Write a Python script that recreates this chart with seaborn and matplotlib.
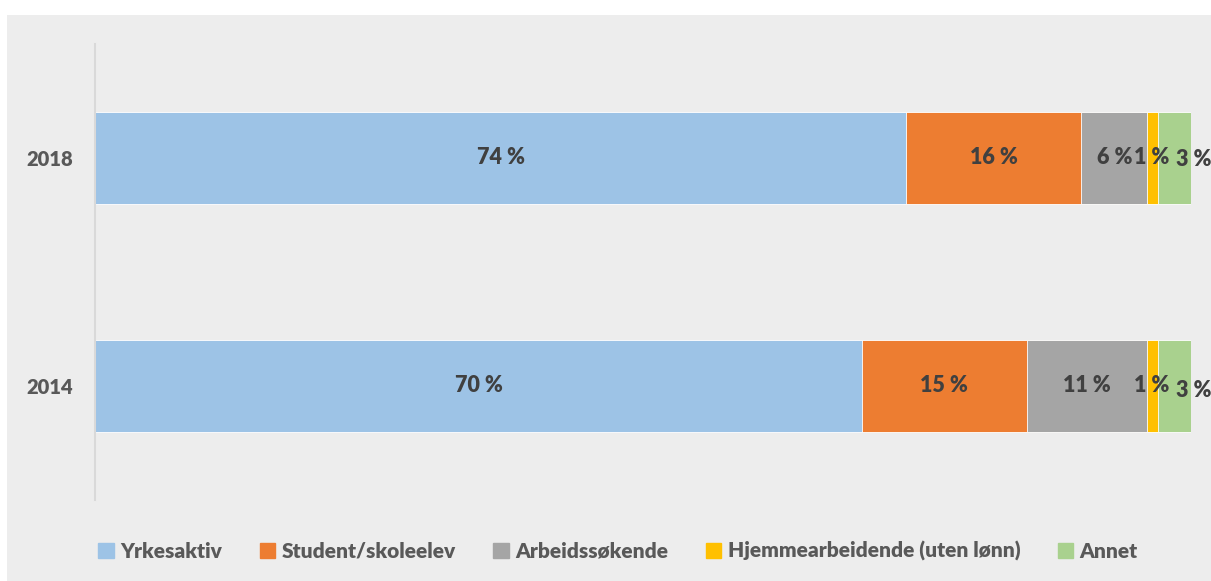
import matplotlib.pyplot as plt
import matplotlib.patches as mpatches
import pandas as pd
import seaborn as sns

# data
years = ["2018", "2014"]
categories = ["Yrkesaktiv", "Student/skoleelev", "Arbeidssøkende",
              "Hjemmearbeidende (uten lønn)", "Annet"]
yrkesaktiv = [74, 70]
student = [16, 15]
arbeidssokende = [6, 11]
hjemme = [1, 1]
annet = [3, 3]
colors = ["#9DC3E6", "#ED7D31", "#A5A5A5", "#FFC000", "#A9D18E"]

df = pd.DataFrame({"year": years, "Yrkesaktiv": yrkesaktiv,
                   "Student/skoleelev": student,
                   "Arbeidssøkende": arbeidssokende,
                   "Hjemmearbeidende (uten lønn)": hjemme,
                   "Annet": annet})
cum = df[categories].cumsum(axis=1)

sns.set_theme(style="white")
plt.rcParams["font.family"] = ["Lato", "DejaVu Sans"]
bg = "#EDEDED"
wt = "heavy"

fig = plt.figure(figsize=(12.11, 5.81), dpi=100)
fig.patches.append(mpatches.Rectangle((7 / 1211, 0), 1, 1 - 15 / 581,
                                      transform=fig.transFigure,
                                      facecolor=bg, edgecolor="none", zorder=-10))
ax = fig.add_axes([95 / 1211, 1 - 500 / 581, 1096 / 1211, 456 / 581])
ax.patch.set_alpha(0)

# stacked bars: draw cumulative totals from the last category backwards
for cat, col in reversed(list(zip(categories, colors))):
    sns.barplot(x=cum[cat], y=df["year"], orient="h", color=col,
                width=0.4, edgecolor="white", linewidth=0.6,
                saturation=1, ax=ax)

# value labels in the middle of each segment (small ones nudged apart like Excel)
nudge = {"Hjemmearbeidende (uten lønn)": (-0.5, 0), "Annet": (13.5, -1)}
for i, yr in enumerate(years):
    for cat in categories:
        val = df.loc[i, cat]
        dx, dy = nudge.get(cat, (0, 0))
        if cat == "Annet" and i == 1:
            dy -= 2
        ax.annotate(f"{val} %", (cum.loc[i, cat] - val / 2, i),
                    xytext=(dx, dy), textcoords="offset points",
                    ha="center", va="center",
                    fontsize=15.5, fontweight=wt, color="#404040")

ax.set_xlim(0, 100)
ax.set_ylim(1.5, -0.5)
ax.set_xlabel("")
ax.set_ylabel("")
ax.set_xticks([])
ax.tick_params(axis="y", length=0, pad=16, labelsize=14.5, labelcolor="#595959")
for lab in ax.get_yticklabels():
    lab.set_fontweight(wt)
for s in ["top", "right", "bottom"]:
    ax.spines[s].set_visible(False)
ax.spines["left"].set_color("#D9D9D9")
ax.spines["left"].set_linewidth(1.5)

handles = [mpatches.Patch(color=c, label=l) for l, c in zip(categories, colors)]
leg = fig.legend(handles=handles, loc="center", bbox_to_anchor=(618 / 1211, 1 - 551 / 581),
                 ncol=5, frameon=False, handlelength=0.75, handleheight=0.75,
                 handletextpad=0.3, columnspacing=1.8,
                 prop={"size": 15, "weight": wt})
for t in leg.get_texts():
    t.set_color("#595959")

fig.savefig("out.png", dpi=100, facecolor="white")
